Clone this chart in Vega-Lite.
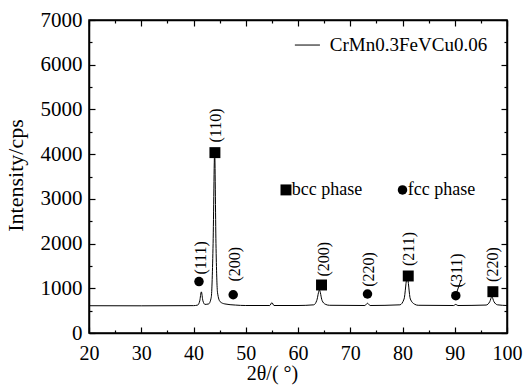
{
  "$schema": "https://vega.github.io/schema/vega-lite/v6.json",
  "autosize": "none",
  "width": 418,
  "height": 313,
  "padding": {"left": 89, "top": 20, "right": 17, "bottom": 57},
  "background": "white",
  "config": {
    "font": "Liberation Serif, Times New Roman, serif",
    "text": {"font": "Liberation Serif, Times New Roman, serif"},
    "view": {"stroke": "black", "strokeWidth": 1.5},
    "axis": {
      "domainColor": "black", "domainWidth": 1.5, "tickColor": "black", "tickWidth": 1.2,
      "labelColor": "black", "titleColor": "black", "grid": false,
      "labelFont": "Liberation Serif, Times New Roman, serif", "titleFont": "Liberation Serif, Times New Roman, serif",
      "labelFontSize": 20, "titleFontSize": 20, "titleFontWeight": "normal"
    }
  },
  "datasets": {
    "profile": [
      {"x": 20, "y": 610}, {"x": 30, "y": 608}, {"x": 40, "y": 612}, {"x": 40.8, "y": 625},
      {"x": 41.2, "y": 720}, {"x": 41.5, "y": 920}, {"x": 41.8, "y": 720}, {"x": 42.2, "y": 640},
      {"x": 42.9, "y": 650}, {"x": 43.4, "y": 800}, {"x": 43.75, "y": 2000}, {"x": 44.05, "y": 4050},
      {"x": 44.3, "y": 2000}, {"x": 44.6, "y": 900}, {"x": 45.1, "y": 700}, {"x": 46, "y": 650},
      {"x": 48, "y": 625}, {"x": 50, "y": 615}, {"x": 54.6, "y": 615}, {"x": 55.0, "y": 680},
      {"x": 55.4, "y": 615}, {"x": 60, "y": 615}, {"x": 63.0, "y": 630}, {"x": 63.6, "y": 730},
      {"x": 64.1, "y": 960}, {"x": 64.6, "y": 730}, {"x": 65.2, "y": 645}, {"x": 66, "y": 620},
      {"x": 72.8, "y": 615}, {"x": 73.3, "y": 665}, {"x": 73.8, "y": 615}, {"x": 79.5, "y": 630},
      {"x": 80.3, "y": 760}, {"x": 80.9, "y": 1250}, {"x": 81.5, "y": 760}, {"x": 82.3, "y": 645},
      {"x": 83, "y": 620}, {"x": 89.8, "y": 615}, {"x": 90.2, "y": 640}, {"x": 90.6, "y": 615},
      {"x": 96, "y": 625}, {"x": 96.7, "y": 700}, {"x": 97.1, "y": 810}, {"x": 97.5, "y": 700},
      {"x": 98.2, "y": 630}, {"x": 100, "y": 615}
    ],
    "bcc": [
      {"x": 44.1, "y": 4034}, {"x": 64.5, "y": 1074}, {"x": 81.1, "y": 1275}, {"x": 97.3, "y": 924}, {"x": 57.7, "y": 3200}
    ],
    "fcc": [
      {"x": 41.05, "y": 1150}, {"x": 47.6, "y": 855}, {"x": 73.3, "y": 872}, {"x": 90.2, "y": 835}, {"x": 80.0, "y": 3200}
    ],
    "labels": [
      {"x": 41.4, "y": 1680, "t": "(111)"}, {"x": 44.25, "y": 4640, "t": "(110)"},
      {"x": 47.9, "y": 1540, "t": "(200)"}, {"x": 65.0, "y": 1650, "t": "(200)"},
      {"x": 73.6, "y": 1420, "t": "(220)"}, {"x": 81.25, "y": 1880, "t": "(211)"},
      {"x": 90.4, "y": 1400, "t": "(311)"}, {"x": 97.3, "y": 1530, "t": "(220)"}
    ],
    "legendtext": [
      {"x": 66.1, "y": 6440, "t": "CrMn0.3FeVCu0.06", "s": 19},
      {"x": 58.8, "y": 3190, "t": "bcc phase", "s": 18},
      {"x": 81.0, "y": 3190, "t": "fcc phase", "s": 18}
    ],
    "rules": [
      {"x": 59.4, "x2": 64.2, "y": 6440, "y2": 6440},
      {"x": 91.2, "x2": 90.4, "y": 1186, "y2": 917}
    ]
  },
  "resolve": {"axis": {"x": "independent", "y": "independent"}},
  "layer": [
    {
      "data": {"name": "profile"},
      "mark": {"type": "line", "color": "black", "strokeWidth": 1, "interpolate": "monotone"},
      "encoding": {
        "x": {"field": "x", "type": "quantitative", "scale": {"domain": [20, 100], "nice": false},
          "axis": {"orient": "bottom", "title": "2θ/( °)", "values": [20,25,30,35,40,45,50,55,60,65,70,75,80,85,90,95,100],
            "labelExpr": "datum.value % 10 === 0 ? datum.label : ''",
            "tickSize": {"condition": {"test": "datum.value % 10 === 0", "value": -6}, "value": -3},
            "labelPadding": 16, "titlePadding": 0, "titleX": 183, "labelFlush": false}},
        "y": {"field": "y", "type": "quantitative", "scale": {"domain": [0, 7000], "nice": false},
          "axis": {"orient": "left", "title": "Intensity/cps", "values": [0,500,1000,1500,2000,2500,3000,3500,4000,4500,5000,5500,6000,6500,7000],
            "labelExpr": "datum.value % 1000 === 0 ? datum.label : ''", "format": "d", "labelFontSize": 21, "titleFontSize": 22,
            "tickSize": {"condition": {"test": "datum.value % 1000 === 0", "value": -6}, "value": -3},
            "labelPadding": 13, "titleX": -74, "titleY": 155, "titleBaseline": "middle", "labelFlush": false}}
      }
    },
    {
      "data": {"name": "bcc"},
      "mark": {"type": "square", "color": "black", "filled": true, "size": 120, "opacity": 1},
      "encoding": {
        "x": {"field": "x", "type": "quantitative",
          "axis": {"orient": "top", "title": null, "labels": false, "values": [20,25,30,35,40,45,50,55,60,65,70,75,80,85,90,95,100],
            "tickSize": {"condition": {"test": "datum.value % 10 === 0", "value": -6}, "value": -3}}},
        "y": {"field": "y", "type": "quantitative",
          "axis": {"orient": "right", "title": null, "labels": false, "values": [0,500,1000,1500,2000,2500,3000,3500,4000,4500,5000,5500,6000,6500,7000],
            "tickSize": {"condition": {"test": "datum.value % 1000 === 0", "value": -6}, "value": -3}}}
      }
    },
    {
      "data": {"name": "fcc"},
      "mark": {"type": "circle", "color": "black", "size": 90, "opacity": 1},
      "encoding": {
        "x": {"field": "x", "type": "quantitative", "axis": null},
        "y": {"field": "y", "type": "quantitative", "axis": null}
      }
    },
    {
      "data": {"name": "labels"},
      "mark": {"type": "text", "angle": 270, "align": "center", "baseline": "middle", "fontSize": 16, "color": "black"},
      "encoding": {
        "x": {"field": "x", "type": "quantitative", "axis": null},
        "y": {"field": "y", "type": "quantitative", "axis": null},
        "text": {"field": "t"}
      }
    },
    {
      "data": {"name": "legendtext"},
      "mark": {"type": "text", "align": "left", "baseline": "middle", "color": "black"},
      "encoding": {
        "x": {"field": "x", "type": "quantitative", "axis": null},
        "y": {"field": "y", "type": "quantitative", "axis": null},
        "text": {"field": "t"},
        "size": {"field": "s", "type": "quantitative", "scale": null, "legend": null}
      }
    },
    {
      "data": {"name": "rules"},
      "mark": {"type": "rule", "color": "black", "strokeWidth": 1},
      "encoding": {
        "x": {"field": "x", "type": "quantitative", "axis": null},
        "x2": {"field": "x2"},
        "y": {"field": "y", "type": "quantitative", "axis": null},
        "y2": {"field": "y2"}
      }
    }
  ]
}
